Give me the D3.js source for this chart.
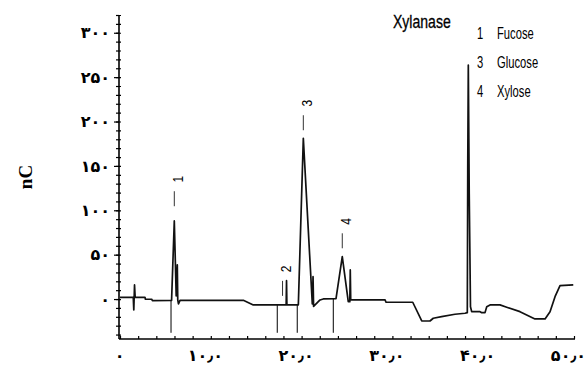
<!DOCTYPE html>
<html>
<head>
<meta charset="utf-8">
<script src="https://cdn.jsdelivr.net/npm/d3@7/dist/d3.min.js"></script>
<style>
body { margin: 0; background: #fff; }
text { fill: #000; }
</style>
</head>
<body>
<svg width="585" height="373"></svg>
<script>
// retention time (min) and detector signal (nC)
var times  = [0, 1.46, 1.52, 1.6, 1.67, 2.75, 2.8, 3.49, 3.57, 5.68, 5.98, 6.19, 6.31, 6.36, 6.44, 6.61, 13.58, 14.68,
              18.3, 18.34, 18.38, 19.64, 20.19, 21.18, 21.26, 21.32, 22.03, 22.39, 23.79, 24.48, 25.14, 25.31, 25.36, 25.41,
              29.19, 29.3, 32.24, 33.23, 34.14, 34.5, 35.42, 36.89, 38.0, 38.25, 38.3, 38.36, 38.46, 38.6, 38.73,
              39.65, 39.84, 40.2, 40.39, 40.75, 41.85, 42.59, 44.05, 45.7, 46.81, 47.36, 47.91, 48.46, 49.92];
var signal = [2, 2, -12.3, 15.9, 2, 2, -0.2, -0.2, -1.8, -1.6, 88, 3.5, 38.4, -1, -5.5, -1.4, -1.4, -6.6,
              -6.6, 20.7, -6.6, -6.6, 181, -5.5, 25.2, -8.3, -1, 0.1, 0.5, 47.8, -2.9, -2.9, 32.8, -1,
              -1, -3.6, -3.6, -24.7, -24.7, -21.6, -19.8, -17.1, -16, -15.3, 153, 263.7, 119.5, -8.6, -14.2,
              -14.2, -15.3, -15.3, -8.6, -6.6, -6.6, -9.2, -14.2, -22.4, -22.4, -14.2, 2.7, 15.1, 15.9];

var yTicks = [0, 50, 100, 150, 200, 250, 300];
var xTicks = [0, 10, 20, 30, 40, 50];

var peakNums = ["1", "2", "3", "4"];
var peakTimes = [5.98, 17.9, 20.19, 24.48];
var peakLabelV = [135, 34, 220.6, 87.6];
var dropTimes = [5.62, 17.32, 19.52, 23.49];

var title = "Xylanase";
var legendNums = ["1", "3", "4"];
var legendNames = ["Fucose", "Glucose", "Xylose"];

var fa = "۰۱۲۳۴۵۶۷۸۹";
function persian(s) {
  return String(s).replace(/\d/g, function(d) { return fa[+d]; });
}

var svg = d3.select("svg");
svg.append("rect").attr("width", 585).attr("height", 373).attr("fill", "#fff");

var x = d3.scaleLinear().domain([0, 50]).range([120, 574]);
var y = d3.scaleLinear().domain([-45, 320]).range([339, 15]);

var data = times.map(function(t, i) { return [t, signal[i]]; });

// axis lines
svg.append("line").attr("x1", 119).attr("x2", 119).attr("y1", y(320)).attr("y2", y(-45))
  .attr("stroke", "#000").attr("stroke-width", 1.6);
svg.append("line").attr("x1", 119).attr("x2", 575).attr("y1", y(-45)).attr("y2", y(-45))
  .attr("stroke", "#000").attr("stroke-width", 1.6);

// y axis: minor ticks every 10, major every 50
var gyMinor = svg.append("g").attr("transform", "translate(119,0)")
  .call(d3.axisLeft(y).tickValues(d3.range(-40, 321, 10)).tickSize(3).tickFormat(""));
var gyMinorR = svg.append("g").attr("transform", "translate(119,0)")
  .call(d3.axisRight(y).tickValues(d3.range(-40, 321, 10)).tickSize(2).tickFormat(""));
var gy = svg.append("g").attr("transform", "translate(119,0)")
  .call(d3.axisLeft(y).tickValues(yTicks).tickSize(5).tickPadding(4).tickFormat(persian));
[gyMinor, gyMinorR, gy].forEach(function(g) {
  g.select(".domain").remove();
  g.selectAll("line").attr("stroke", "#000").attr("stroke-width", 1.2);
});
gy.selectAll("text")
  .attr("font-family", "DejaVu Sans").attr("font-weight", "bold").attr("font-size", 16)
  .attr("letter-spacing", 1);

// x axis: ticks every 2 min pointing up
var gx = svg.append("g").attr("transform", "translate(0," + y(-45) + ")")
  .call(d3.axisBottom(x).tickValues(d3.range(0, 51, 2)).tickSize(-3).tickFormat(""));
gx.select(".domain").remove();
gx.selectAll("line").attr("stroke", "#000").attr("stroke-width", 1.2);

var gxl = svg.append("g").attr("transform", "translate(0," + y(-45) + ")")
  .call(d3.axisBottom(x).tickValues(xTicks).tickSize(0).tickPadding(11)
    .tickFormat(function(d) { return d === 0 ? persian(0) : persian(d) + "٫" + persian(0); }));
gxl.select(".domain").remove();
gxl.selectAll("text")
  .attr("font-family", "DejaVu Sans").attr("font-weight", "bold").attr("font-size", 16)
  .attr("letter-spacing", 1)
  .attr("dx", function(d) { return d === 0 ? -1 : -6; });

// y axis title
svg.append("text")
  .attr("transform", "translate(32,177) rotate(-90)")
  .attr("text-anchor", "middle")
  .attr("font-family", "Liberation Serif").attr("font-weight", "bold").attr("font-size", 19)
  .text("nC");

// peak boundary drop lines
function valueAt(t) {
  var i = d3.bisectLeft(times, t);
  var t0 = times[i - 1], t1 = times[i];
  return signal[i - 1] + (signal[i] - signal[i - 1]) * (t - t0) / (t1 - t0);
}
svg.selectAll(".drop")
  .data(dropTimes)
  .enter().append("line")
    .attr("class", "drop")
    .attr("x1", function(d) { return x(d); }).attr("x2", function(d) { return x(d); })
    .attr("y1", function(d) { return y(valueAt(d)); })
    .attr("y2", y(-38))
    .attr("stroke", "#000").attr("stroke-width", 1);

// the chromatogram trace
svg.append("path")
  .datum(data)
  .attr("fill", "none")
  .attr("stroke", "#111")
  .attr("stroke-width", 1.7)
  .attr("stroke-linejoin", "round")
  .attr("d", d3.line().x(function(d) { return x(d[0]); }).y(function(d) { return y(d[1]); }));

// peak labels
var narrow = "Liberation Sans, Arial, sans-serif";
var pl = svg.selectAll(".plabel")
  .data(peakNums)
  .enter().append("g")
    .attr("class", "plabel")
    .attr("transform", function(d, i) { return "translate(" + x(peakTimes[i]) + "," + y(peakLabelV[i]) + ")"; });
pl.append("line")
  .attr("x1", 0).attr("x2", 0).attr("y1", 12).attr("y2", 27)
  .attr("stroke", "#333").attr("stroke-width", 1);
pl.append("text")
  .attr("transform", "translate(3,0) rotate(-90) scale(0.8,1)")
  .attr("text-anchor", "middle").attr("dy", "0.35em")
  .attr("font-family", narrow).attr("font-size", 15)
  .text(function(d) { return d; });

// legend (condensed type)
svg.append("text")
  .attr("transform", "translate(393,28) scale(0.78,1)")
  .attr("font-family", narrow).attr("font-size", 18)
  .attr("stroke", "#000").attr("stroke-width", 0.3)
  .text(title);
var lg = svg.selectAll(".leg")
  .data(legendNames)
  .enter().append("g")
    .attr("class", "leg")
    .attr("transform", function(d, i) { return "translate(0," + (39 + i * 28.8) + ")"; });
lg.append("text")
  .attr("transform", "translate(477,0) scale(0.68,1)")
  .attr("font-family", narrow).attr("font-size", 16.5)
  .text(function(d, i) { return legendNums[i]; });
lg.append("text")
  .attr("transform", "translate(497,0) scale(0.68,1)")
  .attr("font-family", narrow).attr("font-size", 16.5)
  .text(function(d) { return d; });
</script>
</body>
</html>
